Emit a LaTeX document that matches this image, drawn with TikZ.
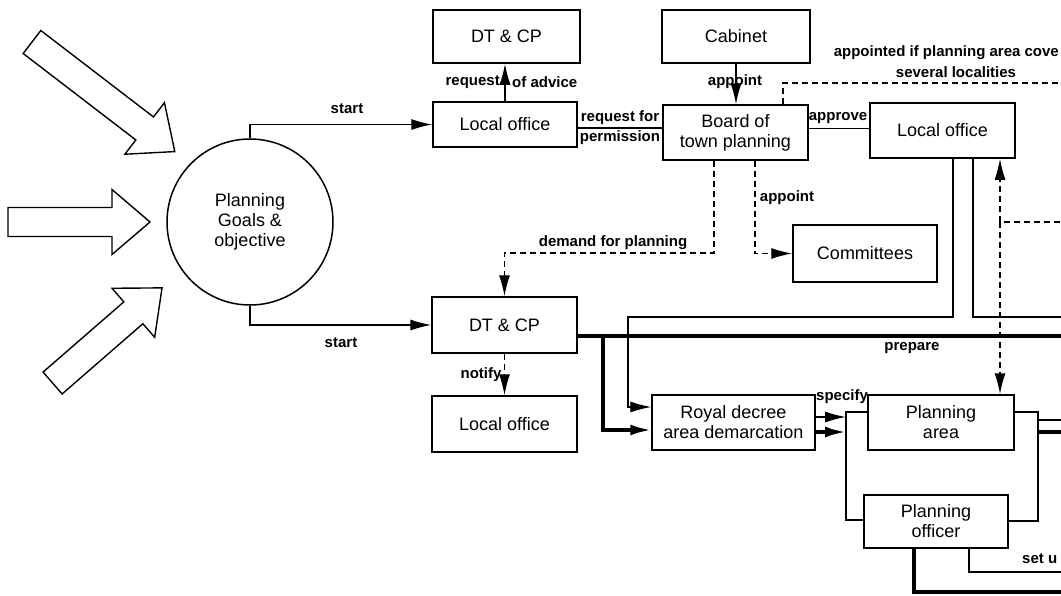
\documentclass[tikz,border=0pt]{standalone}
\usepackage{fontspec}
\setmainfont{Liberation Sans}
\usetikzlibrary{arrows.meta,calc}
\newcommand\hollowarrow[4]{%
  \begin{scope}[shift={(#1,#2)},rotate=#3]
    \draw[hollow] (0,-14.5) -- ({#4-38},-14.5) -- ({#4-38},-32.5) -- (#4,0) -- ({#4-38},32.5) -- ({#4-38},14.5) -- (0,14.5) -- cycle;
  \end{scope}}
\begin{document}
\begin{tikzpicture}[x=1pt,y=-1pt,
  arw/.style={-{Latex[length=21pt,width=11pt]}},
  box/.style={draw,line width=1.5pt,inner sep=0pt,align=center,font=\fontsize{18}{20}\selectfont},
  lbl/.style={inner sep=0pt,align=center,font=\bfseries\fontsize{15}{18}\selectfont},
  conn/.style={line width=1.3pt},
  heavy/.style={line width=3.2pt},
  dsh/.style={line width=1.4pt,dash pattern=on 6pt off 4pt},
  hollow/.style={draw,line width=1.4pt,fill=white}]
\useasboundingbox (0,0) rectangle (1061,595);
\clip (0,0) rectangle (1061,595);

% hollow input arrows
\hollowarrow{8}{222}{0}{142}
\hollowarrow{32}{42}{-37.5}{180}
\hollowarrow{52.6}{383}{41}{145}

% nodes
\node[box,circle,minimum size=166pt] (goal) at (250,222) {Planning\\Goals \&\\objective};
\node[box,minimum width=147pt,minimum height=53pt] (dt1) at (506.5,36.5) {DT \& CP};
\node[box,minimum width=148pt,minimum height=53pt] (cab) at (736,36.5) {Cabinet};
\node[box,minimum width=144pt,minimum height=45pt] (lo1) at (505,124.5) {Local office};
\node[box,minimum width=145pt,minimum height=55pt] (board) at (735.5,132.5) {Board of\\town planning};
\node[box,minimum width=145pt,minimum height=55pt] (lo2) at (942.5,130.5) {Local office};
\node[box,minimum width=144pt,minimum height=57pt] (com) at (865,253.5) {Committees};
\node[box,minimum width=145pt,minimum height=56pt] (dt2) at (504.5,325) {DT \& CP};
\node[box,minimum width=145pt,minimum height=56pt] (lo3) at (504.5,424) {Local office};
\node[box,minimum width=163pt,minimum height=55pt] (royal) at (733.5,422.5) {Royal decree\\area demarcation};
\node[box,minimum width=146pt,minimum height=55pt] (parea) at (941,422.5) {Planning\\area};
\node[box,minimum width=144pt,minimum height=53pt] (poff) at (936,521.5) {Planning\\officer};

% coordinates
\coordinate (e1) at (1070,83);
\coordinate (d1) at (504.5,253);
\coordinate (pR) at (1070,336);
\coordinate (b1) at (603,336);
\coordinate (c1) at (953,317);
\coordinate (c2) at (628,317);
\coordinate (c3) at (1070,317);
\coordinate (dj) at (1000,222);
\coordinate (dR) at (1070,222);
\coordinate (lbt) at (846,412);
\coordinate (lbb) at (846,520);
\coordinate (rbt) at (1038,412);
\coordinate (rbb) at (1038,521);
\coordinate (r1) at (1038,420);
\coordinate (r1e) at (1070,420);
\coordinate (r2) at (1038,432);
\coordinate (r2e) at (1070,432);
\coordinate (o1) at (1070,592);
\coordinate (o2) at (1070,572);

% connectors
\draw[conn,arw] (goal.north) |- (lo1.west);
\draw[conn,arw] (goal.south) |- (dt2.west);
\draw[conn,arw] (lo1.north) -- (lo1.north |- dt1.south);
\draw[conn] ([yshift=-3.5pt]lo1.east) -- ([yshift=-3.5pt]lo1.east -| board.west);
\draw[conn] ([yshift=2pt]lo2.west -| board.east) -- ([yshift=2pt]lo2.west);
\draw[conn,arw] (cab.south) -- (cab.south |- board.north);
\draw[dsh] ([xshift=47.5pt]board.north) |- (e1);
\draw[dsh,arw] ([xshift=-21.5pt]board.south) |- (d1) -- (dt2.north);
\draw[dsh,arw] ([xshift=19.5pt]board.south) |- (com.west);
\draw[dsh,arw] (dt2.south) -- (lo3.north);

\draw[heavy] ([yshift=-11pt]dt2.east) -- (pR);
\draw[heavy,arw] (b1) |- ([yshift=-7.5pt]royal.west);
\draw[conn,arw] ([xshift=10.5pt]lo2.south) -- (c1) -- (c2) |- ([yshift=15.5pt]royal.west);
\draw[conn] ([xshift=30.5pt]lo2.south) |- (c3);

\draw[dsh] (dR) -- (dj);
\draw[dsh,arw] (dj) -- (dj |- lo2.south);
\draw[dsh,arw] (dj) -- (dj |- parea.north);

\draw[conn,arw] ([yshift=5.5pt]royal.east) -- ([yshift=5.5pt]royal.east -| lbt);
\draw[heavy,arw] ([yshift=-9.5pt]royal.east) -- ([yshift=-9.5pt]royal.east -| lbt);
\draw[conn] (parea.west |- lbt) -- (lbt) -- (lbb) -- (poff.west |- lbb);
\draw[conn] (parea.east |- rbt) -- (rbt) -- (rbb) -- (poff.east |- rbb);
\draw[conn] (r1) -- (r1e);
\draw[heavy] (r2) -- (r2e);
\draw[heavy] ([xshift=-22pt]poff.south) |- (o1);
\draw[conn] ([xshift=33pt]poff.south) |- (o2);

% labels
\node[lbl] at (347,109) {start};
\node[lbl] at (341,343) {start};
\node[lbl,anchor=east] at (500,82) {request};
\node[lbl,anchor=west] at (512,82) {of advice};
\node[lbl] at (620,118) {request for};
\node[lbl] at (620,138) {permission};
\node[lbl] at (735,82) {appoint};
\node[lbl] at (838,118) {approve};
\node[lbl,anchor=east] at (1059,53) {appointed if planning area cove};
\node[lbl] at (956,72) {several localities};
\node[lbl] at (613,243) {demand for planning};
\node[lbl] at (787,198) {appoint};
\node[lbl] at (481,375) {notify};
\node[lbl] at (912,348) {prepare};
\node[lbl] at (842,397) {specify};
\node[lbl,anchor=west] at (1022,559) {set u};
\end{tikzpicture}
\end{document}
